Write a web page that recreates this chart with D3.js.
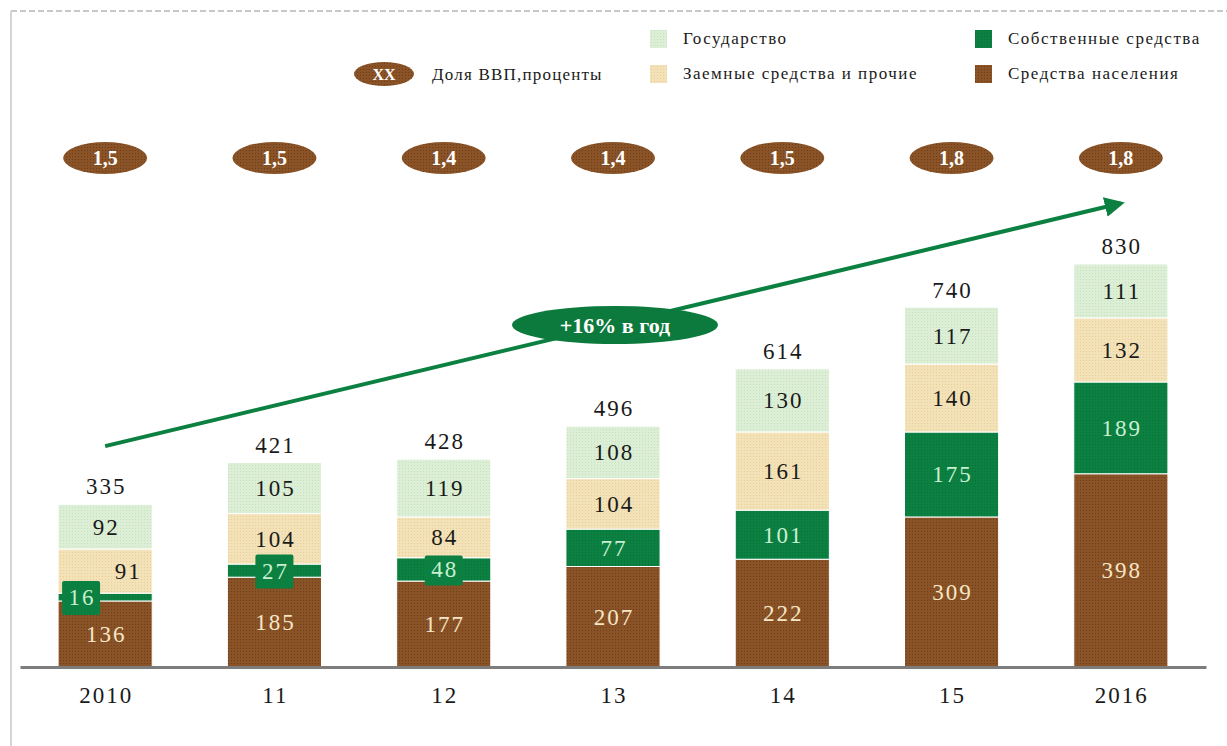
<!DOCTYPE html>
<html>
<head>
<meta charset="utf-8">
<script src="https://cdn.jsdelivr.net/npm/d3@7"></script>
<style>
  html, body { margin: 0; padding: 0; background: #fff; }
  svg text { font-family: "Liberation Serif", "DejaVu Serif", serif; }
</style>
</head>
<body>
<svg id="svg" width="1227" height="746"></svg>
<script>
// data
const years = ["2010", "11", "12", "13", "14", "15", "2016"];
const population = [136, 185, 177, 207, 222, 309, 398];
const ownFunds = [16, 27, 48, 77, 101, 175, 189];
const borrowed = [91, 104, 84, 104, 161, 140, 132];
const government = [92, 105, 119, 108, 130, 117, 111];
const totals = [335, 421, 428, 496, 614, 740, 830];
const gdpShare = ["1,5", "1,5", "1,4", "1,4", "1,5", "1,8", "1,8"];
const seriesNames = ["Средства населения", "Собственные средства", "Заемные средства и прочие", "Государство"];
const growthLabel = "+16% в год";

const svg = d3.select("#svg");
const LS = 2; // letter spacing of the numbers

// colours + dither patterns
const colors = {
    "Средства населения": { base: "#8a5327", dot: "#6e3f17", text: "#f6e6c6" },
    "Собственные средства": { base: "#0c8040", dot: "#08703a", text: "#c8f0d2" },
    "Заемные средства и прочие": { base: "#f3e2b8", dot: "#e8cf98", text: "#1a1a1a" },
    "Государство": { base: "#dcefd6", dot: "#c4e3bc", text: "#1a1a1a" }
};
const defs = svg.append("defs");
seriesNames.forEach((name, i) => {
    let p = defs.append("pattern").attr("id", "pat" + i)
        .attr("width", 3).attr("height", 3).attr("patternUnits", "userSpaceOnUse");
    p.append("rect").attr("width", 3).attr("height", 3).attr("fill", colors[name].base);
    p.append("rect").attr("width", 1).attr("height", 1).attr("fill", colors[name].dot);
});
defs.append("marker").attr("id", "arrow")
    .attr("viewBox", "0 0 10 10").attr("refX", 8).attr("refY", 5)
    .attr("markerWidth", 5).attr("markerHeight", 5).attr("orient", "auto")
    .append("path").attr("d", "M0,0 L10,5 L0,10 z").attr("fill", "#0c8040");

// frame
svg.append("line").attr("x1", 11).attr("x2", 1227).attr("y1", 11).attr("y2", 11)
    .attr("stroke", "#c8c8c8").attr("stroke-width", 2).attr("stroke-dasharray", "6,3");
svg.append("line").attr("x1", 11).attr("x2", 11).attr("y1", 11).attr("y2", 746)
    .attr("stroke", "#d4d4d4").attr("stroke-width", 2);

// scales
const x = d3.scaleBand().domain(years).range([20, 1206]).paddingInner(0.444).paddingOuter(0.225);
const y = d3.scaleLinear().domain([0, 830]).range([667, 264]);
const cx = (d) => x(d) + x.bandwidth() / 2;

const table = years.map((yr, i) => ({
    year: yr,
    "Средства населения": population[i],
    "Собственные средства": ownFunds[i],
    "Заемные средства и прочие": borrowed[i],
    "Государство": government[i]
}));
const stack = d3.stack().keys(seriesNames)(table);

// bars
stack.forEach((layer, li) => {
    let g = svg.append("g");
    g.selectAll("rect").data(layer).enter().append("rect")
        .attr("x", d => x(d.data.year))
        .attr("width", x.bandwidth())
        .attr("y", d => y(d[1]))
        .attr("height", d => y(d[0]) - y(d[1]))
        .attr("fill", "url(#pat" + li + ")")
        .attr("stroke", "#fff").attr("stroke-width", 1);
});

function numText(sel, xx, yy, txt, fill) {
    return sel.append("text").attr("x", xx + LS / 2).attr("y", yy)
        .attr("text-anchor", "middle").attr("font-size", 23).attr("letter-spacing", LS)
        .attr("fill", fill).text(txt);
}

// segment labels
stack.forEach((layer, li) => {
    let name = seriesNames[li];
    layer.forEach((d, i) => {
        let v = d.data[name];
        let mid = (y(d[0]) + y(d[1])) / 2;
        let lx = cx(d.data.year);
        if (v < 60) {
            // label does not fit: put it on a green tag
            if (i == 0) lx = x(d.data.year) + 23;
            let w = 38, h = i == 2 ? 30 : 34;
            svg.append("rect").attr("x", lx - w / 2).attr("y", mid - h / 2 + 1)
                .attr("width", w).attr("height", h).attr("rx", 2)
                .attr("fill", colors[name].base);
        }
        let tx = lx;
        // 2010: borrowed label pushed right of the tag
        if (li == 2 && ownFunds[i] < 20) tx = cx(d.data.year) + 22;
        numText(svg, tx, mid + 8, v, colors[name].text);
    });
});

// totals
years.forEach((yr, i) => numText(svg, cx(yr), y(totals[i]) - 10, totals[i], "#1a1a1a"));

// axis
const axis = svg.append("g").attr("transform", "translate(0," + y(0) + ")")
    .call(d3.axisBottom(x).tickSize(0).tickPadding(20));
axis.select(".domain").attr("stroke", "#7d7d7d").attr("stroke-width", 3);
axis.selectAll("text").attr("font-size", 23).attr("fill", "#1a1a1a")
    .attr("letter-spacing", LS).attr("dx", LS / 2)
    .attr("font-family", "Liberation Serif");

// gdp share ovals
years.forEach((yr, i) => {
    svg.append("ellipse").attr("cx", cx(yr)).attr("cy", 158).attr("rx", 42).attr("ry", 16)
        .attr("fill", "url(#pat0)");
    svg.append("text").attr("x", cx(yr)).attr("y", 165).attr("text-anchor", "middle")
        .attr("font-size", 20).attr("font-weight", "bold").attr("fill", "#fff").text(gdpShare[i]);
});

// growth arrow
svg.append("line")
    .attr("x1", cx(years[0])).attr("y1", y(455))
    .attr("x2", cx(years[6])).attr("y2", y(955))
    .attr("stroke", "#0c8040").attr("stroke-width", 4).attr("marker-end", "url(#arrow)");
svg.append("ellipse").attr("cx", 615).attr("cy", 325).attr("rx", 103).attr("ry", 19).attr("fill", "#0c7a3c");
svg.append("text").attr("x", 615).attr("y", 333).attr("text-anchor", "middle")
    .attr("font-size", 22).attr("font-weight", "bold").attr("fill", "#fff").text(growthLabel);

// legend
const legend = [
    { name: "Государство", x: 650, y: 39, i: 3 },
    { name: "Собственные средства", x: 975, y: 39, i: 1 },
    { name: "Заемные средства и прочие", x: 650, y: 74, i: 2 },
    { name: "Средства населения", x: 975, y: 74, i: 0 }
];
legend.forEach(l => {
    svg.append("rect").attr("x", l.x).attr("y", l.y - 9).attr("width", 17).attr("height", 18)
        .attr("fill", "url(#pat" + l.i + ")");
    svg.append("text").attr("x", l.x + 33).attr("y", l.y + 5).attr("font-size", 17)
        .attr("letter-spacing", 1.5).attr("fill", "#1a1a1a").text(l.name);
});
svg.append("ellipse").attr("cx", 384).attr("cy", 74).attr("rx", 30).attr("ry", 12).attr("fill", "url(#pat0)");
svg.append("text").attr("x", 384).attr("y", 80).attr("text-anchor", "middle").attr("font-size", 16)
    .attr("font-weight", "bold").attr("fill", "#fff").text("ХХ");
svg.append("text").attr("x", 432).attr("y", 80).attr("font-size", 17).attr("letter-spacing", 1.2)
    .attr("fill", "#1a1a1a").text("Доля ВВП,проценты");
</script>
</body>
</html>
